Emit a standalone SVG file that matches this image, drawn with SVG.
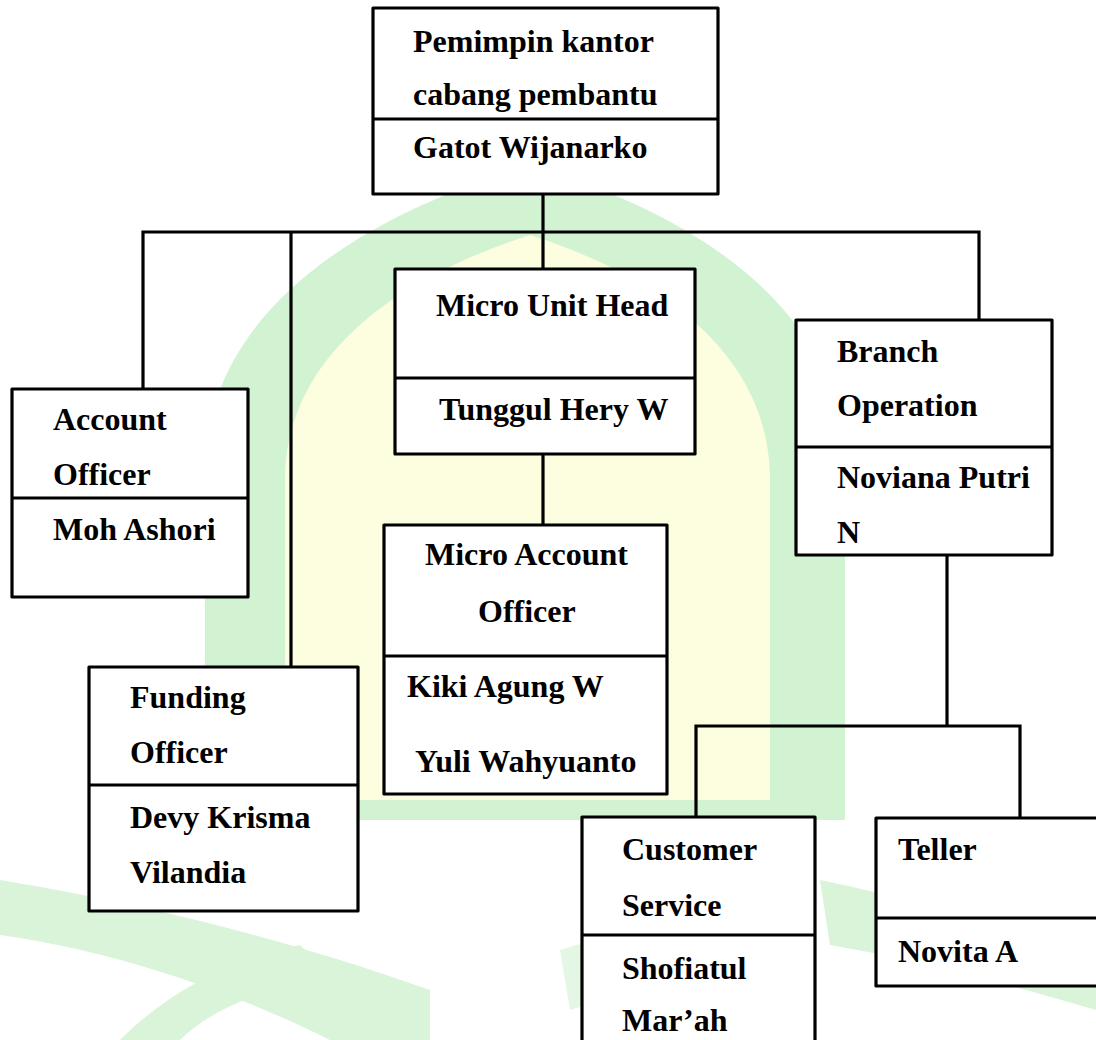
<svg xmlns="http://www.w3.org/2000/svg" width="1096" height="1040" viewBox="0 0 1096 1040">
<style>
.box{fill:#ffffff;stroke:#000000;stroke-width:3.2;stroke-linejoin:round}
.div{stroke:#000000;stroke-width:3.2}
.ln{stroke:#000000;stroke-width:3.2;fill:none}
.t{font-family:"Liberation Serif","Times New Roman",serif;font-weight:bold;font-size:32px;fill:#000000}
</style>
<rect width="1096" height="1040" fill="#ffffff"/>
<g id="watermark" opacity="0.9">
<path d="M205 820 L205 470 C205 330 330 225 530 165 C730 225 845 330 845 470 L845 820 Z" fill="#cdf2cd"/>
<path d="M285 800 L285 480 C285 360 390 280 530 235 C670 280 770 360 770 480 L770 800 Z" fill="#fdfddc"/>
<path d="M0 880 C120 900 260 930 430 990 L430 1040 L330 1040 C230 990 110 950 0 935 Z" fill="#d6f3d6"/>
<path d="M120 1040 C170 990 230 960 300 945 L330 975 C260 990 210 1010 180 1040 Z" fill="#d6f3d6"/>
<path d="M820 880 C920 900 1010 930 1096 960 L1096 1010 C1010 985 920 960 830 945 Z" fill="#d6f3d6"/>
<path d="M560 950 C620 930 690 925 760 930 L770 990 C700 985 630 990 570 1010 Z" fill="#e2f6e2"/>
</g>
<g id="connectors">
<line class="ln" x1="543" y1="194" x2="543" y2="269"/>
<polyline class="ln" points="143,389 143,232 979,232 979,326"/>
<line class="ln" x1="291" y1="232" x2="291" y2="667"/>
<line class="ln" x1="543" y1="454" x2="543" y2="525"/>
<line class="ln" x1="947" y1="555" x2="947" y2="726"/>
<polyline class="ln" points="696,817 696,726 1020,726 1020,818"/>
</g>
<g id="node-pemimpin">
<rect class="box" x="373" y="8" width="345" height="186"/>
<line class="div" x1="373" y1="119" x2="718" y2="119"/>
<text class="t" x="413" y="52">Pemimpin kantor</text>
<text class="t" x="413" y="105">cabang pembantu</text>
<text class="t" x="413" y="158">Gatot Wijanarko</text>
</g>
<g id="node-account-officer">
<rect class="box" x="12" y="389" width="236" height="208"/>
<line class="div" x1="12" y1="498" x2="248" y2="498"/>
<text class="t" x="53" y="430">Account</text>
<text class="t" x="53" y="485">Officer</text>
<text class="t" x="53" y="540">Moh Ashori</text>
</g>
<g id="node-micro-unit-head">
<rect class="box" x="395" y="269" width="300" height="185"/>
<line class="div" x1="395" y1="378" x2="695" y2="378"/>
<text class="t" x="436" y="316">Micro Unit Head</text>
<text class="t" x="439" y="420">Tunggul Hery W</text>
</g>
<g id="node-micro-account-officer">
<rect class="box" x="384" y="525" width="283" height="269"/>
<line class="div" x1="384" y1="656" x2="667" y2="656"/>
<text class="t" x="425" y="565">Micro Account</text>
<text class="t" x="478" y="622">Officer</text>
<text class="t" x="407" y="697">Kiki Agung W</text>
<text class="t" x="415" y="772">Yuli Wahyuanto</text>
</g>
<g id="node-funding-officer">
<rect class="box" x="89" y="667" width="269" height="244"/>
<line class="div" x1="89" y1="785" x2="358" y2="785"/>
<text class="t" x="130" y="708">Funding</text>
<text class="t" x="130" y="763">Officer</text>
<text class="t" x="130" y="828">Devy Krisma</text>
<text class="t" x="130" y="883">Vilandia</text>
</g>
<g id="node-branch-operation">
<rect class="box" x="796" y="320" width="256" height="235"/>
<line class="div" x1="796" y1="447" x2="1052" y2="447"/>
<text class="t" x="837" y="362">Branch</text>
<text class="t" x="837" y="416">Operation</text>
<text class="t" x="837" y="488">Noviana Putri</text>
<text class="t" x="837" y="543">N</text>
</g>
<g id="node-customer-service">
<rect class="box" x="582" y="817" width="233" height="240"/>
<line class="div" x1="582" y1="935" x2="815" y2="935"/>
<text class="t" x="622" y="860">Customer</text>
<text class="t" x="622" y="916">Service</text>
<text class="t" x="622" y="979">Shofiatul</text>
<text class="t" x="622" y="1031">Mar’ah</text>
</g>
<g id="node-teller">
<rect class="box" x="876" y="818" width="230" height="168"/>
<line class="div" x1="876" y1="918" x2="1100" y2="918"/>
<text class="t" x="898" y="860">Teller</text>
<text class="t" x="898" y="962">Novita A</text>
</g>
</svg>
